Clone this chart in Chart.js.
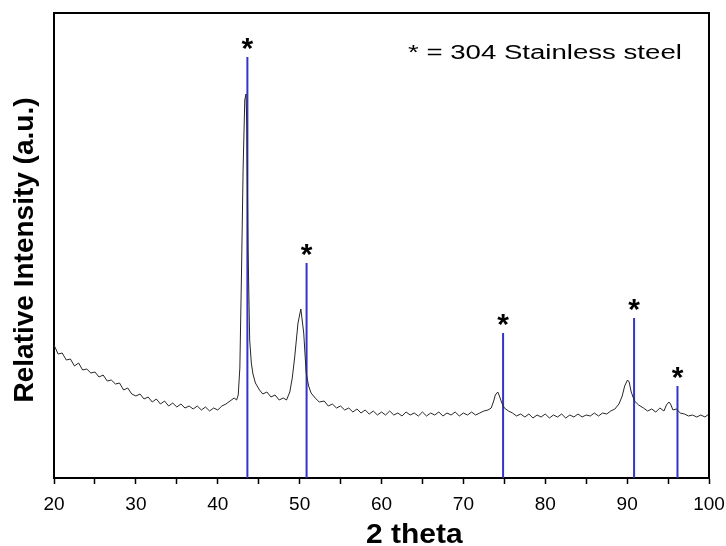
<!DOCTYPE html>
<html>
<head>
<meta charset="utf-8">
<script src="https://cdn.jsdelivr.net/npm/chart.js@4"></script>
<style>
  body { margin: 0; background: #fff; }
  canvas { display: block; }
</style>
</head>
<body>
<canvas id="xrd" width="726" height="546"></canvas>
<script>
// measured XRD pattern (2 theta vs counts, arbitrary units)
const thetaValues = [
  20.0, 20.5, 21.0, 21.5, 22.0, 22.5, 23.0, 23.5, 24.0, 24.5,
  25.0, 25.5, 26.0, 26.5, 27.0, 27.5, 28.0, 28.5, 29.0, 29.5,
  30.0, 30.5, 31.0, 31.5, 32.0, 32.5, 33.0, 33.5, 34.0, 34.5,
  35.0, 35.5, 36.0, 36.5, 37.0, 37.5, 38.0, 38.5, 39.0, 39.5,
  40.0, 40.5, 41.0, 41.5, 42.0, 42.3, 42.5, 42.7, 42.9, 43.1,
  43.3, 43.45, 43.55, 43.7, 43.9, 44.1, 44.3, 44.6, 45.1, 45.5,
  46.0, 46.5, 47.0, 47.5, 48.0, 48.4, 48.8, 49.1, 49.4, 49.8,
  50.15, 50.5, 50.8, 51.1, 51.4, 51.9, 52.4, 53.0, 53.5, 54.0,
  54.5, 55.0, 55.5, 56.0, 56.5, 57.0, 57.5, 58.0, 58.5, 59.0,
  59.5, 60.0, 60.5, 61.0, 61.5, 62.0, 62.5, 63.0, 63.5, 64.0,
  64.5, 65.0, 65.5, 66.0, 66.5, 67.0, 67.5, 68.0, 68.5, 69.0,
  69.5, 70.0, 70.5, 71.0, 71.5, 72.0, 72.5, 73.0, 73.4, 73.7,
  73.9, 74.2, 74.4, 74.7, 75.0, 75.5, 76.0, 76.5, 77.0, 77.5,
  78.0, 78.5, 79.0, 79.5, 80.0, 80.5, 81.0, 81.5, 82.0, 82.5,
  83.0, 83.5, 84.0, 84.5, 85.0, 85.5, 86.0, 86.5, 87.0, 87.5,
  88.0, 88.5, 89.0, 89.4, 89.7, 90.05, 90.25, 90.5, 90.9, 91.4,
  92.0, 92.5, 93.0, 93.5, 94.0, 94.5, 94.8, 95.1, 95.3, 95.6,
  96.0, 96.5, 97.0, 97.5, 98.0, 98.5, 99.0, 99.5, 100.0
];
const intensityValues = [
  133, 124, 125, 118, 119, 112, 115, 108, 109, 105,
  106, 101, 103, 97, 98, 94, 95, 88, 90, 84,
  82, 84, 79, 81, 76, 79, 74, 77, 72, 75,
  71, 74, 70, 72, 69, 72, 68, 71, 67, 70,
  68, 72, 74, 77, 80, 78, 83, 110, 205, 310,
  378, 384, 352, 230, 138, 115, 104, 95, 88, 84,
  86, 81, 83, 78, 80, 78, 86, 100, 121, 155,
  169, 145, 105, 92, 85, 80, 76, 77, 72, 74,
  70, 72, 68, 70, 66, 69, 65, 68, 64, 67,
  63, 66, 63, 67, 63, 65, 62, 66, 63, 65,
  62, 66, 62, 65, 63, 66, 62, 65, 63, 66,
  62, 65, 63, 66, 63, 65, 67, 68, 70, 77,
  83, 86, 82, 75, 70, 67, 65, 62, 64, 61,
  64, 60, 63, 61, 64, 60, 63, 61, 64, 60,
  63, 61, 64, 61, 63, 62, 65, 62, 65, 64,
  67, 69, 74, 82, 92, 98, 96, 86, 77, 73,
  70, 67, 69, 66, 70, 67, 73, 76, 74, 68,
  69, 65, 64, 62, 63, 61, 63, 61, 64
];

// reference stick pattern for 304 stainless steel
const refPositions = [43.62, 50.85, 74.85, 90.85, 96.15];
const refHeights = [421, 215, 145, 160, 92];

const xMin = 20;
const xMax = 100;
const yMax = 465;
const xTitle = '2 theta';
const yTitle = 'Relative Intensity (a.u.)';
const legendText = '* = 304 Stainless steel';
const peakMark = '*';

const patternPoints = thetaValues.map((t, i) => ({ x: t, y: intensityValues[i] }));

// each stick is a little vertical segment, separated by gaps
const stickPoints = [];
refPositions.forEach((p, i) => {
  stickPoints.push({ x: p, y: 0 });
  stickPoints.push({ x: p, y: refHeights[i] });
  stickPoints.push({ x: p, y: null });
});

// top/right frame, star marks, legend and axis titles
const decorations = {
  id: 'decorations',
  afterDraw(chart) {
    const ctx = chart.ctx;
    const area = chart.chartArea;
    const xs = chart.scales.x;
    const ys = chart.scales.y;
    ctx.save();

    ctx.strokeStyle = '#000';
    ctx.lineWidth = 2;
    ctx.beginPath();
    ctx.moveTo(area.left, area.top);
    ctx.lineTo(area.right, area.top);
    ctx.lineTo(area.right, area.bottom);
    ctx.stroke();

    ctx.fillStyle = '#000';
    ctx.textAlign = 'center';
    ctx.textBaseline = 'alphabetic';
    ctx.font = 'bold 30px "Liberation Sans", Arial, sans-serif';
    refPositions.forEach((p, i) => {
      const px = xs.getPixelForValue(p);
      const py = ys.getPixelForValue(refHeights[i]);
      ctx.fillText(peakMark, px, py + 1);
    });

    // legend note, the original text is drawn a bit wide
    ctx.save();
    ctx.font = '20px "Liberation Sans", Arial, sans-serif';
    ctx.textAlign = 'left';
    ctx.translate(408, 59);
    ctx.scale(1.38, 1);
    ctx.fillText(legendText, 0, 0);
    ctx.restore();

    ctx.save();
    ctx.font = 'bold 28px "Liberation Sans", Arial, sans-serif';
    ctx.textAlign = 'left';
    ctx.translate(366, 543);
    ctx.scale(1.07, 1);
    ctx.fillText(xTitle, 0, 0);
    ctx.restore();

    ctx.save();
    ctx.font = 'bold 28px "Liberation Sans", Arial, sans-serif';
    ctx.textAlign = 'center';
    ctx.translate(33, 250);
    ctx.rotate(-Math.PI / 2);
    ctx.fillText(yTitle, 0, 0);
    ctx.restore();

    ctx.restore();
  }
};

new Chart(document.getElementById('xrd'), {
  type: 'line',
  data: {
    datasets: [
      {
        label: 'sample',
        data: patternPoints,
        borderColor: '#262626',
        borderWidth: 1,
        pointRadius: 0,
        tension: 0
      },
      {
        label: '304 SS',
        data: stickPoints,
        borderColor: '#3434c8',
        borderWidth: 2,
        pointRadius: 0,
        spanGaps: false,
        tension: 0
      }
    ]
  },
  options: {
    responsive: false,
    animation: false,
    devicePixelRatio: 1,
    layout: { padding: { top: 13, right: 17, left: 0, bottom: 0 } },
    plugins: {
      legend: { display: false },
      tooltip: { enabled: false }
    },
    scales: {
      x: {
        type: 'linear',
        min: xMin,
        max: xMax,
        afterFit: (scale) => {
          scale.height = 68;
          // let the last label hang past the frame like the original
          scale.paddingLeft = 0;
          scale.paddingRight = 0;
        },
        border: { display: true, color: '#000', width: 2 },
        grid: {
          drawOnChartArea: false,
          drawTicks: true,
          tickLength: 6,
          tickWidth: 1.5,
          tickColor: '#000'
        },
        ticks: {
          stepSize: 5,
          autoSkip: false,
          maxRotation: 0,
          padding: 9,
          color: '#000',
          font: { family: '"Liberation Sans", Arial, sans-serif', size: 19 },
          callback: (v) => (v % 10 === 0 ? String(v) : '')
        }
      },
      y: {
        min: 0,
        max: yMax,
        afterFit: (scale) => { scale.width = 54; },
        border: { display: true, color: '#000', width: 2 },
        grid: { drawOnChartArea: false, drawTicks: false },
        ticks: { display: false }
      }
    }
  },
  plugins: [decorations]
});
</script>
</body>
</html>
